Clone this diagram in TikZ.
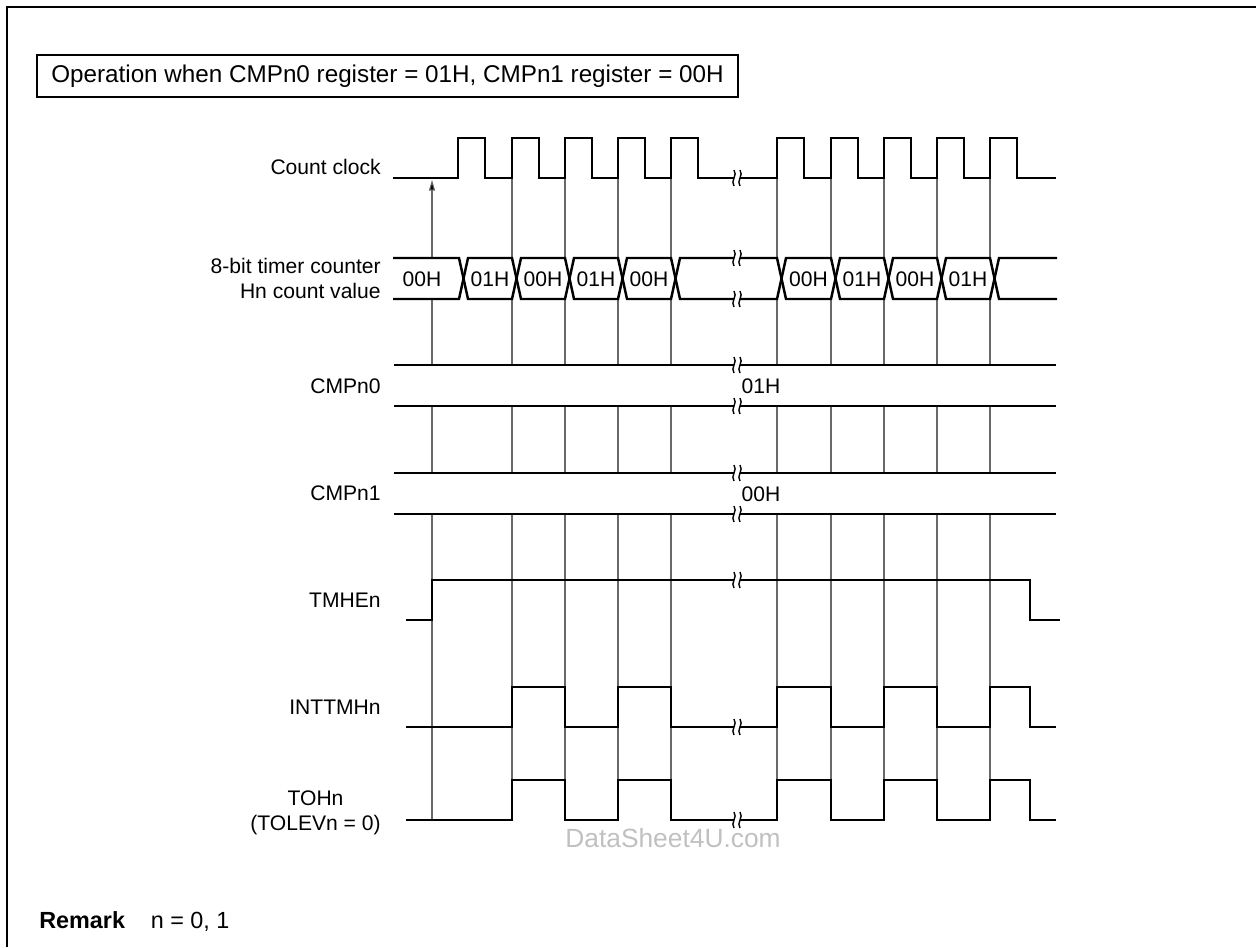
\documentclass[tikz,border=0pt]{standalone}
\usepackage{fontspec}
\setmainfont{Liberation Sans}
\usetikzlibrary{arrows.meta, positioning}
\definecolor{guidegray}{RGB}{105,105,105}
\definecolor{markgray}{RGB}{192,192,192}

\begin{document}
\begin{tikzpicture}[
    x=0.02cm, y=-0.02cm,
    wave/.style={line width=1.4pt, line join=miter},
    guide/.style={guidegray, line width=0.6pt},
    sig/.style={anchor=east, align=right, inner sep=0pt, font=\fontsize{12}{14.2}\selectfont},
    val/.style={inner sep=0pt, font=\fontsize{12}{14.2}\selectfont},
    brk/.pic={
        \fill[white] (-3,-8) .. controls (1,-3) and (-7,3) .. (-3,8) -- (3,8) .. controls (-1,3) and (7,-3) .. (3,-8) -- cycle;
        \draw[line width=0.8pt] (-3,-8) .. controls (1,-3) and (-7,3) .. (-3,8);
        \draw[line width=0.8pt] (3,-8) .. controls (7,-3) and (-1,3) .. (3,8);
    }
]
\useasboundingbox (0,0) rectangle (1256,947);

% Frame
\draw[line width=1.4pt] (7,947) -- (7,7) -- (1256,7);

% Heading
\node[draw, line width=1pt, minimum width=14.02cm, minimum height=0.84cm,
      font=\fontsize{13.8}{16}\selectfont] (title) at (387.5,76)
      {Operation when CMPn0 register = 01H, CMPn1 register = 00H};

% Signal names
\node[sig] (clk) at (381,167) {Count clock};
\node[sig] (cnt) at (381,278) {8-bit timer counter\\Hn count value};
\node[sig] (cmp0) at (381,386) {CMPn0};
\node[sig] (cmp1) at (381,493) {CMPn1};
\node[sig] (tmhe) at (381,600) {TMHEn};
\node[sig] (intt) at (381,707) {INTTMHn};
\node[sig, align=center] (toh) at (381,813) {TOHn\\(TOLEVn = 0)};

% Guide lines
\foreach \x in {512,565,618,671,777,831,884,937,990}
    \draw[guide] (\x,178) -- (\x,258) (\x,299) -- (\x,365) (\x,406) -- (\x,473) (\x,514) -- (\x,820);
\coordinate (start) at (432,258);
\coordinate (edge) at (432,180);
\draw[guide, -{Triangle[length=6pt, width=3.4pt, fill=black]}] (start) -- (edge);
\draw[guide] (432,299) -- (432,365) (432,406) -- (432,473) (432,514) -- (432,820);

% Count clock
\draw[wave] (393,178) foreach \r in {458,512,565,618,671,777,831,884,937,990}
    { -- (\r,178) -- (\r,138) -- (\r+27,138) -- (\r+27,178) } -- (1056,178);

% Counter value
\draw[wave] (393,258) -- (459,258) -- (463.5,278.5) -- (459,299) -- (393,299);
\node[val] (v393) at (422,279) {00H};
\foreach \a/\b/\v in {459/512/01H, 512/565/00H, 565/618/01H, 618/671/00H, 671/777/{},
                      777/831/00H, 831/884/01H, 884/937/00H, 937/990/01H} {
    \draw[wave] (\a+4.5,278.5) -- (\a+9,258) -- (\b,258) -- (\b+4.5,278.5) -- (\b,299) -- (\a+9,299) -- cycle;
    \node[val] (v\a) at ({(\a+9+\b)/2},279) {\v};
}
\draw[wave] (1057,258) -- (999,258) -- (994.5,278.5) -- (999,299) -- (1057,299);

% Compare registers
\draw[wave] (394,365) -- (1056,365) (394,406) -- (1056,406);
\node[val] (c0) at (761,386) {01H};
\draw[wave] (394,473) -- (1056,473) (394,514) -- (1056,514);
\node[val] (c1) at (761,494) {00H};

% TMHEn
\draw[wave] (406,620) -- (432,620) -- (432,580) -- (1030,580) -- (1030,620) -- (1060,620);

% INTTMHn and TOHn
\foreach \lo/\hi in {727/687, 820/780}
    \draw[wave] (406,\lo) foreach \r/\f in {512/565, 618/671, 777/831, 884/937, 990/1030}
        { -- (\r,\lo) -- (\r,\hi) -- (\f,\hi) -- (\f,\lo) } -- (1056,\lo);

% Breaks
\foreach \y in {178,258,299,365,406,473,514,580,727,820}
    \pic at (737,\y) {brk};

% Watermark
\node[text=markgray, font=\fontsize{15}{18}\selectfont] (wmark) at (673,838) {DataSheet4U.com};

% Remark
\node[anchor=west, inner sep=0pt, font=\fontsize{13.3}{16}\selectfont\bfseries] (rmk) at (39,920) {Remark};
\node[anchor=base west, xshift=0.5cm, inner sep=0pt, font=\fontsize{13.3}{16}\selectfont] (rmkn) at (rmk.base east) {n = 0, 1};
\end{tikzpicture}
\end{document}
